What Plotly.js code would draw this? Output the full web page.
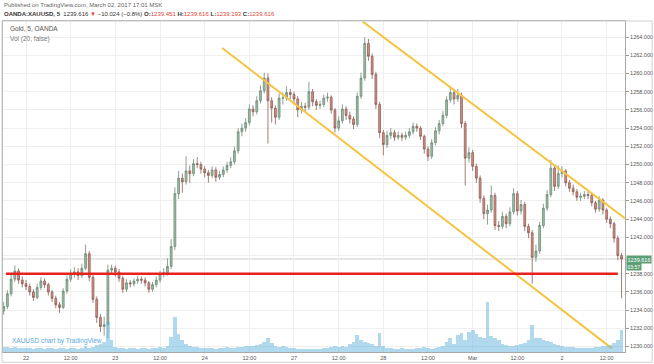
<!DOCTYPE html>
<html>
<head>
<meta charset="utf-8">
<script src="https://cdn.plot.ly/plotly-3.0.1.min.js"></script>
<style>html,body{margin:0;padding:0;background:#fff;}#chart{width:654px;height:364px;}</style>
</head>
<body>
<div id="chart"></div>
<script>
// Hourly OHLC (hour offsets from 22 Feb 00:00, weekend removed)
const openP = [
1233.9,1234.4,1235.8,1237.4,1238.3,1237.3,1236.9,1236.6,1236.0,1235.4,
1236.5,1237.2,1236.8,1236.0,1235.3,1234.6,1234.3,1236.1,1237.4,1238.0,
1238.2,1237.8,1238.6,1240.2,1237.6,1235.2,1233.2,1232.2,1232.4,1238.4,
1238.6,1238.2,1237.5,1236.3,1237.0,1236.9,1237.2,1237.4,1237.3,1237.0,
1236.3,1236.8,1237.3,1238.0,1238.1,1238.8,1241.0,1246.8,1248.5,1248.1,
1249.3,1249.0,1250.1,1250.0,1249.5,1249.1,1248.8,1249.4,1248.6,1248.9,
1249.4,1249.9,1250.3,1251.5,1253.6,1254.0,1254.6,1256.1,1255.8,1257.0,
1258.1,1259.5,1257.0,1256.2,1255.2,1257.3,1257.3,1257.9,1257.7,1257.2,
1256.0,1256.4,1256.3,1258.0,1256.9,1256.5,1256.6,1257.3,1257.4,1256.0,
1254.0,1254.8,1256.1,1255.4,1255.0,1254.4,1257.5,1259.5,1263.3,1261.9,
1259.9,1256.6,1253.5,1252.2,1253.2,1253.5,1253.0,1253.2,1253.0,1253.2,
1253.6,1254.2,1254.0,1253.1,1251.7,1250.9,1252.4,1253.7,1254.5,1255.4,
1257.1,1257.9,1257.2,1257.6,1254.5,1250.7,1251.3,1249.8,1248.5,1246.3,
1244.6,1245.0,1246.6,1243.3,1243.2,1244.3,1243.5,1244.8,1246.8,1244.9,
1245.6,1243.2,1242.5,1239.8,1240.5,1243.3,1245.2,1246.7,1249.6,1247.6,
1249.0,1249.3,1248.0,1247.4,1247.0,1246.4,1246.5,1246.7,1246.6,1245.8,
1245.1,1246.1,1245.0,1244.0,1243.5,1241.9,1240.0];
const highP = [
1234.9,1236.2,1237.9,1238.9,1238.6,1237.7,1237.3,1236.9,1236.3,1236.9,
1237.6,1237.5,1237.0,1236.2,1235.6,1234.9,1236.4,1237.8,1238.5,1238.7,
1238.6,1239.1,1241.2,1240.5,1237.9,1235.5,1233.6,1233.3,1239.0,1239.0,
1238.9,1238.5,1237.8,1237.4,1237.3,1237.5,1237.8,1237.7,1237.6,1237.2,
1237.1,1237.7,1238.3,1238.6,1239.7,1241.8,1247.5,1249.3,1249.0,1250.9,
1249.9,1250.6,1250.8,1250.3,1249.8,1249.4,1249.8,1249.7,1249.3,1249.8,
1250.3,1250.8,1252.0,1254.0,1254.5,1255.1,1256.6,1256.5,1257.5,1258.7,
1260.1,1260.0,1257.4,1256.5,1257.8,1257.9,1258.6,1258.3,1258.0,1257.5,
1256.9,1256.8,1259.1,1258.3,1257.2,1257.0,1257.7,1257.9,1257.6,1256.2,
1255.3,1256.6,1256.4,1255.8,1255.3,1257.9,1260.1,1264.0,1263.8,1262.2,
1260.2,1256.9,1253.8,1253.7,1254.0,1253.8,1253.6,1253.5,1253.6,1254.0,
1254.6,1254.5,1254.2,1253.3,1252.0,1252.8,1254.1,1254.9,1255.9,1257.5,
1258.5,1258.2,1258.3,1257.9,1254.8,1251.9,1251.6,1250.1,1248.8,1246.6,
1245.6,1247.7,1246.9,1243.8,1244.8,1244.6,1245.3,1247.4,1247.1,1246.1,
1245.9,1243.5,1242.8,1241.2,1243.7,1245.7,1247.2,1250.5,1249.9,1249.9,
1249.8,1249.5,1248.3,1247.8,1247.3,1246.9,1247.1,1247.0,1246.9,1246.0,
1246.5,1246.3,1245.2,1244.3,1243.7,1242.2,1240.3];
const lowP = [
1233.5,1234.1,1235.5,1237.1,1236.9,1236.5,1236.2,1235.6,1235.0,1235.2,
1236.2,1236.4,1235.6,1234.9,1234.2,1233.7,1234.1,1235.8,1237.1,1237.6,
1237.3,1237.5,1238.4,1237.2,1234.8,1232.6,1231.6,1231.2,1230.9,1238.0,
1237.7,1237.1,1235.9,1236.0,1236.5,1236.6,1236.9,1236.9,1236.6,1235.9,
1236.0,1236.5,1237.0,1237.6,1237.8,1238.5,1240.6,1246.2,1246.9,1247.8,
1248.0,1248.7,1249.6,1249.0,1248.6,1248.0,1248.5,1248.1,1248.3,1248.6,
1249.1,1249.6,1250.0,1251.2,1253.1,1253.6,1254.3,1255.3,1255.5,1256.7,
1257.8,1252.3,1254.6,1254.4,1254.9,1256.6,1257.0,1257.2,1256.7,1255.2,
1255.6,1255.8,1256.0,1256.4,1256.0,1256.1,1256.3,1256.9,1255.6,1253.5,
1253.7,1254.5,1254.9,1254.5,1253.9,1254.1,1257.2,1259.2,1261.4,1259.4,
1256.1,1252.9,1251.0,1251.8,1252.8,1252.6,1252.7,1252.6,1252.7,1252.9,
1253.3,1253.6,1252.7,1251.2,1250.4,1250.6,1252.1,1253.3,1254.2,1255.1,
1256.8,1256.6,1256.9,1254.0,1247.7,1250.2,1249.3,1248.0,1245.8,1244.0,
1243.4,1244.7,1242.8,1242.7,1242.9,1243.0,1243.2,1244.5,1244.4,1244.5,
1242.7,1241.9,1236.9,1239.3,1240.2,1243.0,1244.9,1246.4,1247.1,1247.3,
1248.6,1247.6,1247.0,1246.6,1246.0,1246.0,1246.2,1246.2,1245.4,1244.7,
1244.8,1244.5,1243.6,1243.0,1241.4,1239.5,1235.3];
const closeP = [
1234.4,1235.8,1237.4,1238.3,1237.3,1236.9,1236.6,1236.0,1235.4,1236.5,
1237.2,1236.8,1236.0,1235.3,1234.6,1234.3,1236.1,1237.4,1238.0,1238.2,
1237.8,1238.6,1240.2,1237.6,1235.2,1233.2,1232.2,1232.4,1238.4,1238.6,
1238.2,1237.5,1236.3,1237.0,1236.9,1237.2,1237.4,1237.3,1237.0,1236.3,
1236.8,1237.3,1238.0,1238.1,1238.8,1241.0,1246.8,1248.5,1248.1,1249.3,
1249.0,1250.1,1250.0,1249.5,1249.1,1248.8,1249.4,1248.6,1248.9,1249.4,
1249.9,1250.3,1251.5,1253.6,1254.0,1254.6,1256.1,1255.8,1257.0,1258.1,
1259.5,1257.0,1256.2,1255.2,1257.3,1257.3,1257.9,1257.7,1257.2,1256.0,
1256.4,1256.3,1258.0,1256.9,1256.5,1256.6,1257.3,1257.4,1256.0,1254.0,
1254.8,1256.1,1255.4,1255.0,1254.4,1257.5,1259.5,1263.3,1261.9,1259.9,
1256.6,1253.5,1252.2,1253.2,1253.5,1253.0,1253.2,1253.0,1253.2,1253.6,
1254.2,1254.0,1253.1,1251.7,1250.9,1252.4,1253.7,1254.5,1255.4,1257.1,
1257.9,1257.2,1257.6,1254.5,1250.7,1251.3,1249.8,1248.5,1246.3,1244.6,
1245.0,1246.6,1243.3,1243.2,1244.3,1243.5,1244.8,1246.8,1244.9,1245.6,
1243.2,1242.5,1239.8,1240.5,1243.3,1245.2,1246.7,1249.6,1247.6,1249.0,
1249.3,1248.0,1247.4,1247.0,1246.4,1246.5,1246.7,1246.6,1245.8,1245.1,
1246.1,1245.0,1244.0,1243.5,1241.9,1240.0,1239.616];
const volume = [
5,5,4,5,4,4,4,4,3,4,
4,3,4,4,3,4,4,3,4,4,
3,4,6,4,5,7,8,10,30,12,
5,4,4,3,4,4,3,4,4,3,
4,4,5,4,6,15,35,18,12,8,
6,5,5,4,4,4,4,3,4,4,
5,4,4,5,5,6,6,6,7,8,
10,14,9,6,5,6,5,4,4,3,
3,3,3,3,3,3,4,4,5,6,
5,6,5,8,10,17,12,10,9,8,
6,19,6,4,4,3,3,4,3,3,
3,4,4,5,4,3,4,5,6,10,
14,8,17,19,12,20,22,18,15,14,
50,16,14,12,8,7,6,6,7,8,
9,12,27,14,14,12,11,10,8,7,
6,5,5,5,4,4,4,4,4,5,
5,6,6,7,9,12,22];
const firstHour = -6;   // first bar: 21 Feb 18:00
const tickVals = [0,12,24,36,48,60,72,84,96,108,120,132,144,156];
const tickText = ['22','12:00','23','12:00','24','12:00','27','12:00','28','12:00','Mar','12:00','2','12:00'];
// 1240.000 is hidden behind the last-price label in the reference
const priceTicks = [1230,1232,1234,1236,1238,1242,1244,1246,1248,1250,1252,1254,1256,1258,1260,1262,1264];
const supportLevel = 1238.0;
const supportX = [-5.4, 159.0];
const upperChannelX = [90.5, 160.9];
const upperChannelY = [1265.7, 1244.1];
const lowerChannelX = [52.7, 157.4];
const lowerChannelY = [1262.8, 1229.8];
const lastPrice = 1239.616;
const countdown = '03:57';

const hours = closeP.map((_, i) => firstHour + i);
const F = 'Liberation Sans, Arial, sans-serif';
const red = '#e0453a';

const traces = [
  {type:'bar', x:hours, y:volume, yaxis:'y2', width:1,
   marker:{color:'rgba(100,180,222,0.5)', line:{width:0}}, hoverinfo:'skip'},
  {type:'candlestick', x:hours, open:openP, high:highP, low:lowP, close:closeP,
   increasing:{line:{color:'#6f8a78', width:0.8}, fillcolor:'#9cbfa6'},
   decreasing:{line:{color:'#8e5e56', width:0.8}, fillcolor:'#d99085'},
   whiskerwidth:0, hoverinfo:'skip'},
  {type:'scatter', mode:'lines', x:upperChannelX, y:upperChannelY,
   line:{color:'#f5c443', width:2}, hoverinfo:'skip'},
  {type:'scatter', mode:'lines', x:lowerChannelX, y:lowerChannelY,
   line:{color:'#f5c443', width:2}, hoverinfo:'skip'},
  {type:'scatter', mode:'lines', x:supportX, y:[supportLevel, supportLevel],
   line:{color:'#e8211d', width:2.5}, hoverinfo:'skip'}
];

const hdr2 = '<b>OANDA:XAUUSD, 5</b>  ' + lastPrice.toFixed(3) +
  ' <span style="color:' + red + '">▼</span> −10.024 (−0.8%) ' +
  '<b>O:</b><span style="color:' + red + '">1239.451</span> ' +
  '<b>H:</b><span style="color:' + red + '">1239.616</span> ' +
  '<b>L:</b><span style="color:' + red + '">1239.193</span> ' +
  '<b>C:</b><span style="color:' + red + '">1239.616</span>';

const layout = {
  width:654, height:364,
  margin:{l:3, r:29, t:21, b:12, pad:0},
  paper_bgcolor:'#ffffff', plot_bgcolor:'#ffffff',
  showlegend:false, bargap:0,
  font:{family:F, size:6, color:'#555'},
  xaxis:{
    range:[-6.18, 160.93], rangeslider:{visible:false},
    tickmode:'array', tickvals:tickVals, ticktext:tickText,
    tickfont:{size:5.5, color:'#555', family:F}, ticks:'',
    showgrid:true, gridcolor:'#efefef', gridwidth:1, zeroline:false,
    showline:true, linecolor:'#a8a8a8', linewidth:1, mirror:true
  },
  yaxis:{
    side:'right', range:[1229.4, 1265.77],
    tickmode:'array', tickvals:priceTicks,
    tickformat:'.3f', tickfont:{size:5.5, color:'#555', family:F},
    ticks:'outside', ticklen:3, tickcolor:'#999',
    showgrid:true, gridcolor:'#efefef', gridwidth:1, zeroline:false,
    showline:true, linecolor:'#a8a8a8', linewidth:1, mirror:true
  },
  yaxis2:{overlaying:'y', range:[0, 331], visible:false, fixedrange:true},
  shapes:[
    {type:'line', xref:'paper', x0:0, x1:1, yref:'y', y0:1240, y1:1240,
     line:{color:'#efefef', width:1}, layer:'below'},
    {type:'line', xref:'paper', x0:0, x1:1, yref:'y', y0:lastPrice, y1:lastPrice,
     line:{color:'#cfcfcf', width:1}, layer:'below'},
    {type:'rect', xref:'paper', yref:'paper', x0:-0.0016, x1:1.0436, y0:-0.031, y1:1,
     line:{color:'#d0d0d0', width:1}, fillcolor:'rgba(0,0,0,0)'}
  ],
  annotations:[
    {xref:'paper', yref:'paper', x:-0.002, y:1.049, xanchor:'left', yanchor:'middle',
     text:'Published on TradingView.com, March 02, 2017 17:01 MSK', showarrow:false,
     font:{size:6, color:'#666', family:F}},
    {xref:'paper', yref:'paper', x:-0.002, y:1.021, xanchor:'left', yanchor:'middle',
     text:hdr2, showarrow:false, font:{size:6, color:'#333', family:F}},
    {xref:'paper', yref:'paper', x:0.008, y:0.976, xanchor:'left', yanchor:'middle',
     text:'Gold, 5, OANDA', showarrow:false, font:{size:6.5, color:'#555', family:F}},
    {xref:'paper', yref:'paper', x:0.008, y:0.946, xanchor:'left', yanchor:'middle',
     text:'Vol (20, false)', showarrow:false, font:{size:6.5, color:'#777', family:F}},
    {xref:'paper', yref:'paper', x:0.011, y:0.033, xanchor:'left', yanchor:'middle',
     text:'XAUUSD chart by TradingView', showarrow:false, font:{size:6.5, color:'#5aa9da', family:F}},
    {xref:'paper', yref:'y', x:1.002, y:lastPrice, xanchor:'left', yanchor:'middle',
     text:lastPrice.toFixed(3), showarrow:false, bgcolor:'#5c9f77', borderpad:0.5,
     font:{size:5.5, color:'#ffffff', family:F}},
    {xref:'paper', yref:'y', x:1.002, y:lastPrice - 0.85, xanchor:'left', yanchor:'middle',
     text:countdown, showarrow:false, bgcolor:'#5c9f77', borderpad:0.5,
     font:{size:5, color:'#ffffff', family:F}}
  ]
};

Plotly.newPlot('chart', traces, layout, {staticPlot:true, displayModeBar:false});
</script>
</body>
</html>
